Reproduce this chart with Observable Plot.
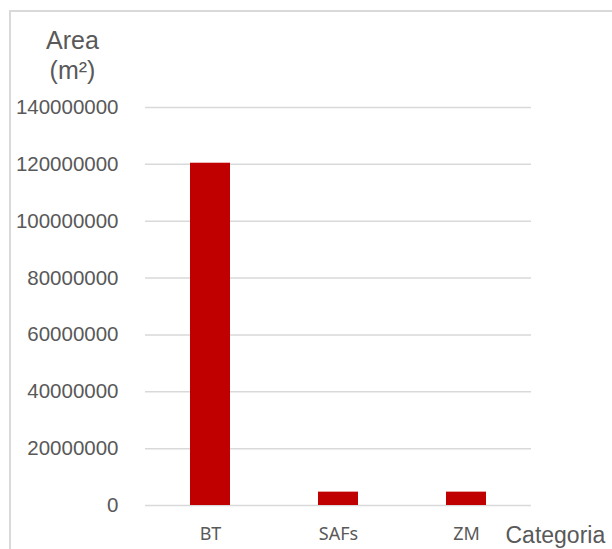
<!DOCTYPE html>
<html>
<head>
<meta charset="utf-8">
<script src="https://cdn.jsdelivr.net/npm/d3@7"></script>
<script src="https://cdn.jsdelivr.net/npm/@observablehq/plot@0.6"></script>
<style>
  html, body { margin: 0; padding: 0; background: #fff; overflow: hidden; }
  #wrap { position: relative; width: 612px; height: 549px; }
  #border { position: absolute; left: 9px; top: 10px; width: 620px; height: 560px;
            border-left: 2px solid #d9d9d9; border-top: 2px solid #d9d9d9; pointer-events: none; }
</style>
</head>
<body>
<div id="wrap"><div id="border"></div></div>
<script>
const categories = ["BT", "SAFs", "ZM"];
const values = [120400000, 4700000, 4700000];
const yTicks = [0, 20000000, 40000000, 60000000, 80000000, 100000000, 120000000, 140000000];
const yTitle = "Area\n(m²)";
const xTitle = "Categoria";

const data = categories.map((c, i) => ({cat: c, value: values[i]}));
const grey = "#595959";

const chart = Plot.plot({
  width: 612,
  height: 549,
  marginLeft: 145,
  marginRight: 81,
  marginTop: 107,
  marginBottom: 44,
  style: {fontFamily: "Liberation Sans, Arial, sans-serif", background: "transparent", overflow: "visible"},
  x: {domain: categories, paddingInner: 0.684, paddingOuter: 0.342},
  y: {domain: [0, 140000000]},
  marks: [
    Plot.ruleY(yTicks, {stroke: "#d9d9d9", strokeWidth: 1.5}),
    Plot.barY(data, {x: "cat", y: "value", fill: "#c00000"}),
    Plot.axisY({ticks: yTicks, tickFormat: d3.format("d"), tickSize: 0, tickPadding: 27,
      fontSize: 20.5, fill: grey, label: null}),
    Plot.axisX({tickSize: 0, tickPadding: 22, fontSize: 18, fill: grey, label: null,
      fontFamily: "Noto Sans, sans-serif"}),
    Plot.text([yTitle], {frameAnchor: "top-left", dx: -73, dy: -29, text: d => d,
      textAnchor: "middle", lineAnchor: "bottom", lineHeight: 1.2, fontSize: 25, fill: grey}),
    Plot.text([xTitle], {frameAnchor: "bottom-right", dx: -26, dy: 37, text: d => d,
      textAnchor: "start", lineAnchor: "bottom", fontSize: 23, fill: grey})
  ]
});
chart.style.position = "absolute";
chart.style.left = "0";
chart.style.top = "0";
document.getElementById("wrap").appendChild(chart);
</script>
</body>
</html>
